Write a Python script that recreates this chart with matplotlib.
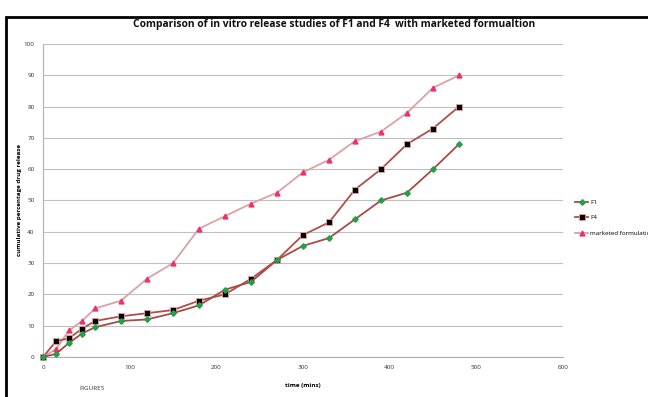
import matplotlib
matplotlib.use("Agg")
import matplotlib.pyplot as plt
from matplotlib.patches import Rectangle

plt.rcParams['font.family'] = ['Open Sans', 'DejaVu Sans']

# sampling times (mins)
time = [0, 15, 30, 45, 60, 90, 120, 150, 180, 210, 240, 270, 300, 330, 360, 390, 420, 450, 480]
# cumulative % drug release
f1 = [0, 1, 4.5, 7.5, 9.5, 11.5, 12, 14, 16.5, 21.5, 24, 31, 35.5, 38, 44, 50, 52.5, 60, 68]
f4 = [0, 5, 6, 9, 11.5, 13, 14, 15, 18, 20, 25, 31, 39, 43, 53.5, 60, 68, 73, 80]
marketed = [0, 2.5, 8.5, 11.5, 15.5, 18, 25, 30, 41, 45, 49, 52.5, 59, 63, 69, 72, 78, 86, 90]

W, H = 648, 397
fig = plt.figure(figsize=(W / 100, H / 100), dpi=100)
ax = fig.add_axes([43 / W, 1 - 357 / H, (563 - 43) / W, (357 - 44) / H])

ax.plot(time, marketed, color='#dba3a4', lw=1.3, marker='^', ms=3.5,
        mfc='#f0306a', mec='#f0306a', label='marketed formulation', zorder=2)
ax.plot(time, f4, color='#b14d4a', lw=1.3, marker='s', ms=5,
        mfc='black', mec='#e8a0a0', mew=0.6, label='F4', zorder=3)
ax.plot(time, f1, color='#a84a45', lw=1.3, marker='D', ms=2.8,
        mfc='#22a04a', mec='#22a04a', label='F1', zorder=4)

ax.set_xlim(0, 600)
ax.set_ylim(0, 100)
ax.set_xticks(range(0, 601, 100))
ax.set_yticks(range(0, 101, 10))
ax.tick_params(labelsize=4.5, length=0, pad=6, colors='#333333')
ax.yaxis.grid(True, color='#c0c0c0', lw=0.8)
ax.set_axisbelow(True)
for s in ['top', 'right']:
    ax.spines[s].set_visible(False)
for s in ['left', 'bottom']:
    ax.spines[s].set_color('#b0b0b0')
for ln in ax.lines:
    ln.set_clip_on(False)

ax.set_xlabel('time (mins)', fontsize=4.5, fontweight='bold', labelpad=9)
ax.yaxis.set_label_coords(-(43 - 22) / (563 - 43), 0.5)
ax.set_ylabel('cumulative percentage drug release', fontsize=4.5, fontweight='bold')

fig.text(334 / W, 1 - 24 / H, 'Comparison of in vitro release studies of F1 and F4  with marketed formualtion',
         ha='center', va='center', fontsize=7.4, fontweight='bold', color='#111111')
fig.text(79 / W, 1 - 388 / H, 'FIGURE5', ha='left', va='center', fontsize=4.5, color='#333333')

handles, labels = ax.get_legend_handles_labels()
leg = fig.legend(handles[::-1], ['F1', 'F4', 'marketed formulation'], loc='upper left',
                 bbox_to_anchor=(569 / W, 1 - 194 / H), frameon=False, fontsize=4.5,
                 handlelength=2.2, labelspacing=1.6, handletextpad=0.3)

fig.patches.append(Rectangle((6 / W, -0.05), 1.2, 1 - 17 / H + 0.05, transform=fig.transFigure,
                             fill=False, ec='black', lw=2))

fig.savefig('out.png', dpi=100)
